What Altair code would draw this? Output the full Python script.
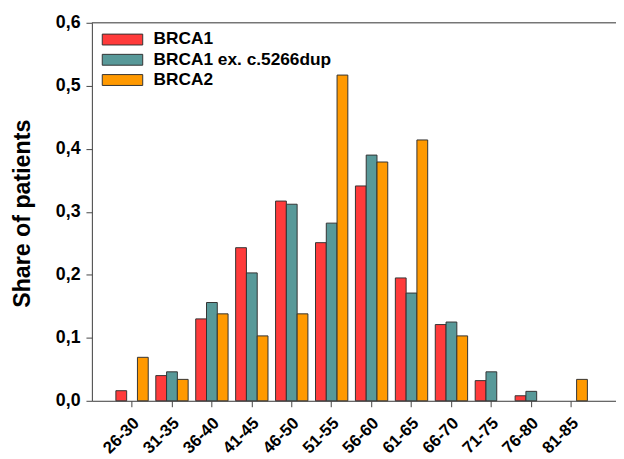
import altair as alt
import pandas as pd

ages = ["26-30", "31-35", "36-40", "41-45", "46-50", "51-55",
        "56-60", "61-65", "66-70", "71-75", "76-80", "81-85"]
series = ["BRCA1", "BRCA1 ex. c.5266dup", "BRCA2"]
brca1 = [0.016, 0.040, 0.130, 0.243, 0.317, 0.251, 0.341, 0.195, 0.121, 0.032, 0.008, 0.0]
brca1_ex = [0.0, 0.046, 0.156, 0.203, 0.312, 0.282, 0.390, 0.171, 0.125, 0.046, 0.015, 0.0]
brca2 = [0.069, 0.034, 0.138, 0.103, 0.138, 0.517, 0.379, 0.414, 0.103, 0.0, 0.0, 0.034]
colors = ["#FF3B3B", "#589999", "#FF9900"]
y_ticks = [0.0, 0.1, 0.2, 0.3, 0.4, 0.5, 0.6]

rows = []
for name, vals in zip(series, [brca1, brca1_ex, brca2]):
    for a, v in zip(ages, vals):
        rows.append({"age": a, "series": name, "share": v})
df = pd.DataFrame(rows)

FONT = "Liberation Sans"
W, H = 531, 383

bars = alt.Chart(df).transform_filter("datum.share > 0").mark_bar(
    stroke="#333333", strokeWidth=1
).encode(
    x=alt.X("age:N", sort=ages,
            scale=alt.Scale(domain=ages, paddingInner=0.19, paddingOuter=0.6587, align=0.456),
            axis=alt.Axis(title=None, labelAngle=-45, labelFont=FONT, labelFontSize=17,
                          labelFontWeight="bold", labelColor="black", tickSize=6,
                          labelPadding=8, labelOffset=-1,
                          domainColor="#444444", tickColor="#444444")),
    xOffset=alt.XOffset("series:N", sort=series, scale=alt.Scale(domain=series)),
    y=alt.Y("share:Q", scale=alt.Scale(domain=[0, 0.6], nice=False),
            axis=alt.Axis(values=y_ticks, grid=False, title="Share of patients",
                          labelExpr="replace(format(datum.value, '.1f'), '.', ',')",
                          labelFont=FONT, labelFontSize=18, labelFontWeight="bold",
                          labelColor="black", tickSize=6, labelPadding=6,
                          domainColor="#444444", tickColor="#444444",
                          titleFont=FONT, titleFontSize=23.5, titleFontWeight="bold",
                          titleColor="black", titleAngle=270, titleAlign="center",
                          titleBaseline="middle", titleX=-70, titleY=193)),
    fill=alt.Fill("series:N", scale=alt.Scale(domain=series, range=colors),
                  legend=alt.Legend(title=None, orient="none", legendX=20.5, legendY=6.5,
                                    symbolType="M-2.05,-0.55L2.05,-0.55L2.05,0.55L-2.05,0.55Z",
                                    symbolSize=400, symbolStrokeColor="#333333",
                                    symbolStrokeWidth=1, labelOffset=21, labelLimit=400,
                                    labelFont=FONT, labelFontSize=17.5, labelFontWeight="bold",
                                    labelColor="black", rowPadding=1.5, padding=0)),
)

top = alt.Chart(pd.DataFrame({"v": [0.6]})).mark_rule(color="#444444", strokeWidth=1).encode(
    y=alt.Y("v:Q"), x=alt.value(0), x2=alt.value(W)
)

chart = alt.layer(bars, top).properties(
    width=W, height=H,
    autosize=alt.AutoSizeParams(type="none"),
    padding={"left": 85, "top": 12, "right": 0, "bottom": 56},
).configure_view(stroke=None).configure(background="white")

chart.save("out.html", embed_options={"renderer": "svg", "actions": False})
